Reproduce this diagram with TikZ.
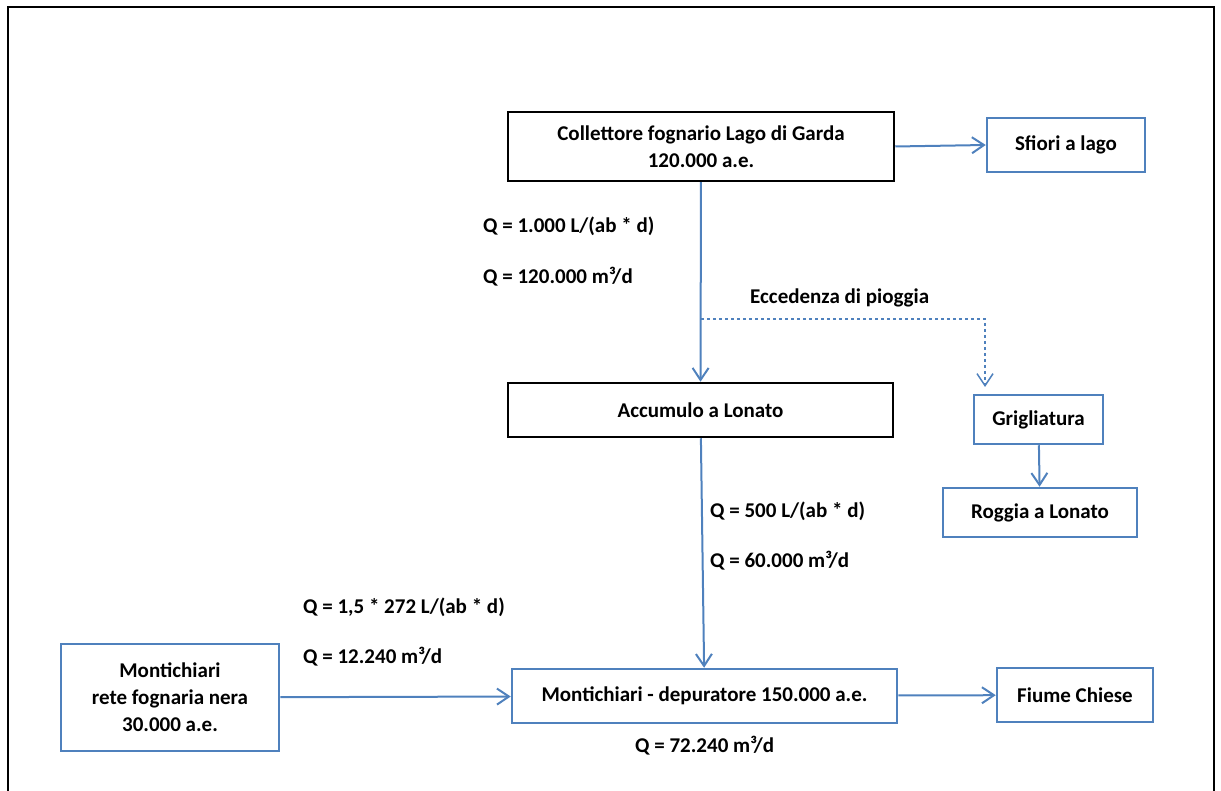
\documentclass[tikz,border=0pt]{standalone}
\usepackage{fontspec}
\setmainfont{Carlito}
\usetikzlibrary{arrows.meta}
\definecolor{flowblue}{RGB}{79,129,189}

\begin{document}
\begin{tikzpicture}[x=1pt, y=-1pt, >={Straight Barb[length=12pt,width=16pt]}, font=\fontsize{21}{27}\selectfont\bfseries, align=center,
  box/.style={draw=black, line width=2.5pt, inner sep=0pt},
  bluebox/.style={draw=flowblue, line width=2.5pt, inner sep=0pt},
  flow/.style={draw=flowblue, line width=2pt, ->},
  qlabel/.style={anchor=west, inner sep=0pt}]
  \useasboundingbox (0,0) rectangle (1221,791);
  \draw[line width=2.5pt] (8,791) -- (8,7) -- (1214,7) -- (1214,791);

  % boxes
  \node[box, minimum width=386pt, minimum height=69pt]     (coll)   at (701,146.5)  {Collettore fognario Lago di Garda\\120.000 a.e.};
  \node[bluebox, minimum width=158pt, minimum height=54pt] (sfiori) at (1066,145)   {Sfiori a lago};
  \node[box, minimum width=385pt, minimum height=54pt]     (acc)    at (700.5,410)  {Accumulo a Lonato};
  \node[bluebox, minimum width=129pt, minimum height=49pt] (grig)   at (1038.5,419.5) {Grigliatura};
  \node[bluebox, minimum width=194pt, minimum height=49pt] (roggia) at (1040,512.5) {Roggia a Lonato};
  \node[bluebox, minimum width=385pt, minimum height=54pt] (dep)    at (704.5,696)  {Montichiari - depuratore 150.000 a.e.};
  \node[bluebox, minimum width=218pt, minimum height=107pt] (monti) at (170,697.5)  {Montichiari\\rete fognaria nera\\30.000 a.e.};
  \node[bluebox, minimum width=156pt, minimum height=54pt] (fiume)  at (1075,695)   {Fiume Chiese};

  % labels
  \node[qlabel] (q1)   at (483,226) {Q = 1.000 L/(ab * d)};
  \node[qlabel] (q2)   at (483,277) {Q = 120.000 m³/d};
  \node[qlabel] (rain) at (750,298) {Eccedenza di pioggia};
  \node[qlabel] (q3)   at (710,511) {Q = 500 L/(ab * d)};
  \node[qlabel] (q4)   at (710,561) {Q = 60.000 m³/d};
  \node[qlabel] (q5)   at (303,607) {Q = 1,5 * 272 L/(ab * d)};
  \node[qlabel] (q6)   at (303,657) {Q = 12.240 m³/d};
  \node[qlabel] (q7)   at (635,746) {Q = 72.240 m³/d};

  \coordinate (split)   at (701,319);
  \coordinate (rainend) at (985,387);

  % connectors
  \path (coll.east) edge[flow] (sfiori.west)
        (coll)      edge[flow] (acc)
        (acc)       edge[flow] (dep)
        (grig)      edge[flow] (roggia)
        (monti)     edge[flow] (dep)
        (dep)       edge[flow] (fiume);
  \draw[flow, dashed, line width=1.5pt] (split) -| (rainend);
\end{tikzpicture}
\end{document}
